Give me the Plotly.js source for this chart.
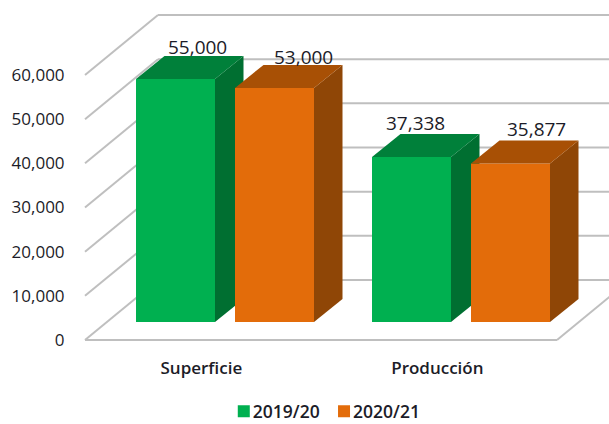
<!DOCTYPE html>
<html>
<head>
<meta charset="utf-8">
<script src="https://cdn.plot.ly/plotly-3.0.1.min.js"></script>
<style>html,body{margin:0;padding:0;background:#fff}#c{width:609px;height:424px}</style>
</head>
<body>
<div id="c"></div>
<script>
const categories = ['Superficie', 'Producción'];
const series2019 = [55000, 37338];
const series2020 = [53000, 35877];
const seriesNames = ['2019/20', '2020/21'];
const yTicks = [0, 10000, 20000, 30000, 40000, 50000, 60000];

// oblique-projection geometry, in pixels, converted to data units
const pxPerCat = 236, pxPerVal = 265 / 60000;
const ux = p => p / pxPerCat, uy = p => p / pxPerVal;
const F = '"Open Sans", sans-serif', ink = '#1c1c28';
const base = uy(18), floorDx = ux(22), halfGap = ux(49.5), barW = ux(79);
const depthX = ux(28.5), depthY = uy(23);

const catX = categories.map((_, i) => i + 0.5);
const centers = s => catX.map(c => c + floorDx + s * halfGap);

function faces(cx, vals, sideColor, topColor) {
  const out = [];
  cx.forEach((c, i) => {
    const l = c - barW / 2, r = c + barW / 2, t = base + vals[i];
    out.push({x: [r, r + depthX, r + depthX, r, r], y: [base, base + depthY, t + depthY, t, base], color: sideColor});
    out.push({x: [l, r, r + depthX, l + depthX, l], y: [t, t, t + depthY, t + depthY, t], color: topColor});
  });
  return out.map(f => ({
    type: 'scatter', mode: 'lines', x: f.x, y: f.y, fill: 'toself', fillcolor: f.color,
    line: {width: 0, color: f.color}, showlegend: false, hoverinfo: 'skip'
  }));
}
function barTrace(name, cx, vals, color, legend) {
  return {type: 'bar', name, x: cx, y: vals, base: cx.map(() => base), width: cx.map(() => barW),
          marker: {color, line: {width: 0}}, hoverinfo: 'skip', legend};
}

const cx1 = centers(-1), cx2 = centers(1);
const green = [barTrace(seriesNames[0], cx1, series2019, '#00b050', 'legend')]
  .concat(faces(cx1, series2019, '#006f31', '#00803a'));
const orange = [barTrace(seriesNames[1], cx2, series2020, '#e36c0a', 'legend2')]
  .concat(faces(cx2, series2020, '#8f4606', '#a85005'))
  .map(t => Object.assign(t, {xaxis: 'x2', yaxis: 'y2'}));

const xRange = [ux(-5), ux(524)], yRange = [uy(-5), uy(335)];
const wallX = ux(73), wallY = uy(60);
const gridLine = {color: '#bfbfbf', width: 2};
const shapes = [];
yTicks.forEach(v => {
  shapes.push({type: 'line', layer: 'below', xref: 'x', yref: 'y', x0: 0, y0: v, x1: wallX, y1: v + wallY, line: gridLine});
  shapes.push({type: 'line', layer: 'below', xref: 'x', yref: 'y', x0: wallX, y0: v + wallY, x1: xRange[1], y1: v + wallY, line: gridLine});
});
shapes.push({type: 'line', layer: 'below', xref: 'x', yref: 'y', x0: 0, y0: 0, x1: 2, y1: 0, line: gridLine});
shapes.push({type: 'line', layer: 'below', xref: 'x', yref: 'y', x0: 2, y0: 0, x1: 2 + wallX, y1: wallY, line: gridLine});

const labelShift = [[21.5, 32.5], [3.5, 34.5]];
const labelShift2 = [[28.5, 31], [25.5, 34.5]];
const annotations = [];
[[cx1, series2019, labelShift], [cx2, series2020, labelShift2]].forEach(([cx, vals, sh]) => {
  cx.forEach((c, i) => annotations.push({
    x: c, y: base + vals[i], xref: 'x', yref: 'y', text: vals[i].toLocaleString('en-US'), showarrow: false,
    xanchor: 'center', yanchor: 'middle', xshift: sh[i][0], yshift: sh[i][1],
    font: {family: F, size: 19, color: ink, weight: 500}
  }));
});

const legendBase = {orientation: 'h', xref: 'paper', yref: 'container', xanchor: 'left', y: 0.03, yanchor: 'middle',
  font: {family: F, size: 17.5, color: ink, weight: 600}, itemwidth: 30, bgcolor: 'rgba(0,0,0,0)'};
const layout = {
  width: 609, height: 424, showlegend: true, paper_bgcolor: '#fff', plot_bgcolor: '#fff',
  margin: {l: 80, r: 0, t: 5, b: 79}, barmode: 'overlay', shapes, annotations,
  xaxis: {range: xRange, tickmode: 'array', tickvals: catX.map(c => c - 0.007), ticktext: categories,
          showgrid: false, zeroline: false, showline: false, ticks: 'outside', ticklen: 8, tickcolor: 'rgba(0,0,0,0)',
          tickfont: {family: F, size: 17, color: ink, weight: 600}},
  yaxis: {range: yRange, tickmode: 'array', tickvals: yTicks, tickformat: ',d',
          showgrid: false, zeroline: false, showline: false, ticks: 'outside', ticklen: 11, tickcolor: 'rgba(0,0,0,0)',
          tickfont: {family: F, size: 17, color: ink, weight: 500}},
  xaxis2: {range: xRange, overlaying: 'x', visible: false},
  yaxis2: {range: yRange, overlaying: 'y', visible: false},
  legend: Object.assign({x: 0.251}, legendBase),
  legend2: Object.assign({x: 0.4405}, legendBase)
};
Plotly.newPlot('c', green.concat(orange), layout, {displayModeBar: false, staticPlot: true}).then(() => {
  document.querySelectorAll('#c .legendpoints').forEach(g => g.setAttribute('transform', 'translate(11,0)'));
});
</script>
</body>
</html>
